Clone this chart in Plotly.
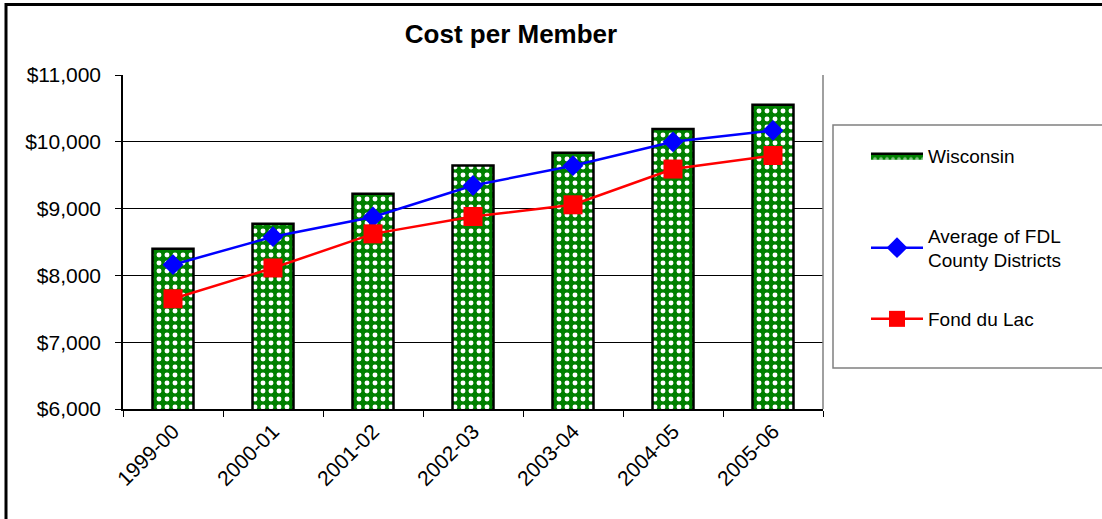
import plotly.graph_objects as go

years = ["1999-00", "2000-01", "2001-02", "2002-03", "2003-04", "2004-05", "2005-06"]
wisconsin = [8400, 8775, 9222, 9645, 9837, 10192, 10555]
fdl_avg = [8160, 8579, 8874, 9346, 9642, 10000, 10170]
fond_du_lac = [7650, 8111, 8622, 8882, 9057, 9592, 9795]

FONT = "Liberation Sans, Arial, sans-serif"
GREEN = "#008000"

W, H = 1102, 519
L, R, T, B = 123, 823, 75, 409
pw, ph = R - L, B - T

def px(x):
    return (x - L) / pw

def py(y):
    return (B - y) / ph

fig = go.Figure()
fig.add_trace(go.Bar(
    x=years, y=wisconsin, name="Wisconsin", showlegend=False,
    marker=dict(color=GREEN, line=dict(color="black", width=2.5),
                pattern=dict(shape=".", fgcolor="white", bgcolor=GREEN,
                             size=8, solidity=0.3, fillmode="replace")),
))
# legend-only entry for the bar series (filled swatch)
fig.add_trace(go.Scatter(
    x=[None], y=[None], name="Wisconsin", mode="lines",
    fill="toself", fillcolor=GREEN,
    fillpattern=dict(shape=".", fgcolor="white", bgcolor=GREEN, size=6, solidity=0.3),
    line=dict(color="black", width=2.5),
    legend="legend",
))
fig.add_trace(go.Scatter(
    x=years, y=fdl_avg, name="Average of FDL<br>County Districts",
    mode="lines+markers",
    line=dict(color="#0000FF", width=2.5),
    marker=dict(symbol="diamond", size=16, color="#0000FF"),
    legend="legend2",
))
fig.add_trace(go.Scatter(
    x=years, y=fond_du_lac, name="Fond du Lac",
    mode="lines+markers",
    line=dict(color="#FF0000", width=2.5),
    marker=dict(symbol="square", size=19, color="#FF0000"),
    legend="legend3",
))

shapes = [
    dict(type="rect", xref="paper", yref="paper",
         x0=px(6), x1=px(1115), y0=py(535), y1=py(4.5),
         line=dict(color="black", width=3), layer="below"),
    dict(type="rect", xref="paper", yref="paper",
         x0=px(833), x1=px(1115), y0=py(368), y1=py(125),
         line=dict(color="#808080", width=1.5)),
    dict(type="line", xref="paper", yref="paper",
         x0=1, x1=1, y0=0, y1=1,
         line=dict(color="#808080", width=1.5)),
]

leg_common = dict(xanchor="left", yanchor="middle", bgcolor="rgba(0,0,0,0)",
                  borderwidth=0, font=dict(family=FONT, size=19, color="black"),
                  itemwidth=52, itemsizing="trace")

fig.update_layout(
    width=W, height=H,
    margin=dict(l=L, r=W - R, t=T, b=H - B, autoexpand=False),
    paper_bgcolor="white", plot_bgcolor="white",
    font=dict(family=FONT, size=20, color="black"),
    title=dict(text="<b>Cost per Member</b>", font=dict(family=FONT, size=26, color="black"),
               x=px(511), xref="paper", xanchor="center",
               y=1 - 34 / H, yref="container", yanchor="middle"),
    bargap=0.59,
    showlegend=True,
    legend=dict(x=px(866), y=py(156), **leg_common),
    legend2=dict(x=px(866), y=py(248), **leg_common),
    legend3=dict(x=px(866), y=py(319), **leg_common),
    shapes=shapes,
)
fig.update_xaxes(
    type="category", tickson="boundaries", ticks="outside", ticklen=6,
    tickcolor="black", showline=True, linecolor="black", linewidth=1.5,
    tickangle=-45, showgrid=False,
    tickfont=dict(family=FONT, size=21, color="black"),
)
fig.update_yaxes(
    range=[6000, 11000], dtick=1000, tickprefix="$", tickformat=",",
    ticks="outside", ticklen=6, tickcolor="black", ticklabelstandoff=10,
    showline=True, linecolor="black", linewidth=1.5,
    showgrid=True, gridcolor="black", gridwidth=1, zeroline=False,
    tickfont=dict(family=FONT, size=21, color="black"),
)

fig.write_html("out.html", config={"displayModeBar": False},
               post_script="document.body.style.margin='0';document.body.style.overflow='hidden';")
